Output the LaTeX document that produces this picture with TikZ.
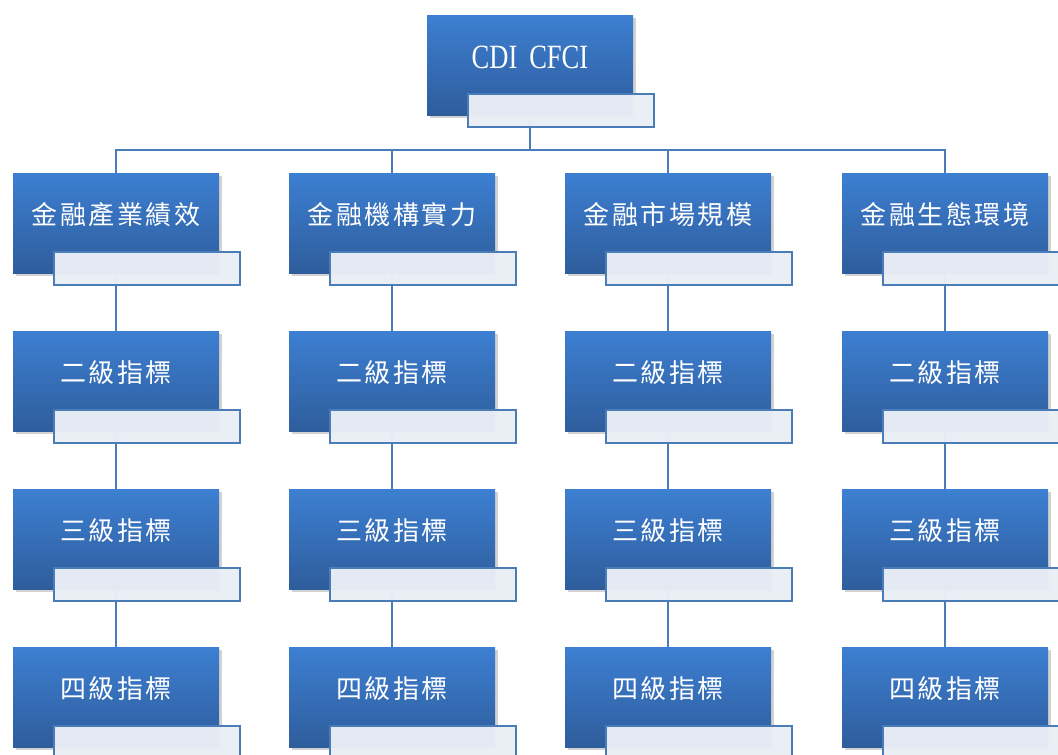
\documentclass[tikz,border=0pt]{standalone}
\usepackage{fontspec}
\usetikzlibrary{shadows,backgrounds}
\newfontfamily\cjk[LetterSpace=10]{Noto Sans CJK TC}
\newfontfamily\latinf[FakeStretch=0.78]{Liberation Serif}
\definecolor{boxtop}{HTML}{3D7FD2}
\definecolor{boxbot}{HTML}{2E5D9C}
\definecolor{lineblue}{HTML}{4A7CB8}
\definecolor{paleface}{HTML}{EAEFF6}
\tikzset{
  bluebox/.style={rectangle, minimum width=206pt, minimum height=100pt, inner sep=0pt,
    top color=boxtop, bottom color=boxbot, draw=none,
    drop shadow={shadow xshift=2.5pt, shadow yshift=-2.5pt, opacity=0.35}},
  whitebox/.style={rectangle, minimum width=186pt, minimum height=33pt, inner sep=0pt,
    fill=paleface, fill opacity=0.97, draw=lineblue, line width=1.8pt},
  lbl/.style={text=white, font=\cjk\fontsize{26}{30}\selectfont, yshift=8pt},
  toplbl/.style={text=white, font=\latinf\fontsize{34}{40}\selectfont, yshift=8pt},
  conn/.style={draw=lineblue, line width=2pt}
}
\begin{document}
\begin{tikzpicture}[x=1pt,y=-1pt]
\clip (0,0) rectangle (1058,755);
% top
\node[bluebox, label={[toplbl]center:CDI\hspace{0.35em}CFCI}] (top) at (530,65) {};
\node[whitebox, anchor=north west] (topw) at (467,93) {};
\coordinate (bar) at (0,150);
% columns
\foreach \c/\cx/\name in {1/116/金融產業績效, 2/392/金融機構實力, 3/668/金融市場規模, 4/945/金融生態環境}{
  \node[bluebox, label={[lbl]center:\name}] (b\c1) at (\cx,223) {};
  \node[whitebox, anchor=north west] (w\c1) at ([xshift=40pt,yshift=-78pt]b\c1.north west) {};
  \node[bluebox, label={[lbl]center:二級指標}] (b\c2) at (\cx,381) {};
  \node[whitebox, anchor=north west] (w\c2) at ([xshift=40pt,yshift=-78pt]b\c2.north west) {};
  \node[bluebox, label={[lbl]center:三級指標}] (b\c3) at (\cx,539) {};
  \node[whitebox, anchor=north west] (w\c3) at ([xshift=40pt,yshift=-78pt]b\c3.north west) {};
  \node[bluebox, label={[lbl]center:四級指標}] (b\c4) at (\cx,697) {};
  \node[whitebox, anchor=north west] (w\c4) at ([xshift=40pt,yshift=-78pt]b\c4.north west) {};
}
\begin{scope}[on background layer]
  \fill[white] (0,0) rectangle (1058,755);
  \foreach \c in {1,2,3,4}{
    \draw[conn] (top.center) -- (top.center |- bar) -| (b\c1.north);
    \draw[conn] (b\c1.center) -- (b\c2.north);
    \draw[conn] (b\c2.center) -- (b\c3.north);
    \draw[conn] (b\c3.center) -- (b\c4.north);
  }
\end{scope}
\end{tikzpicture}
\end{document}
